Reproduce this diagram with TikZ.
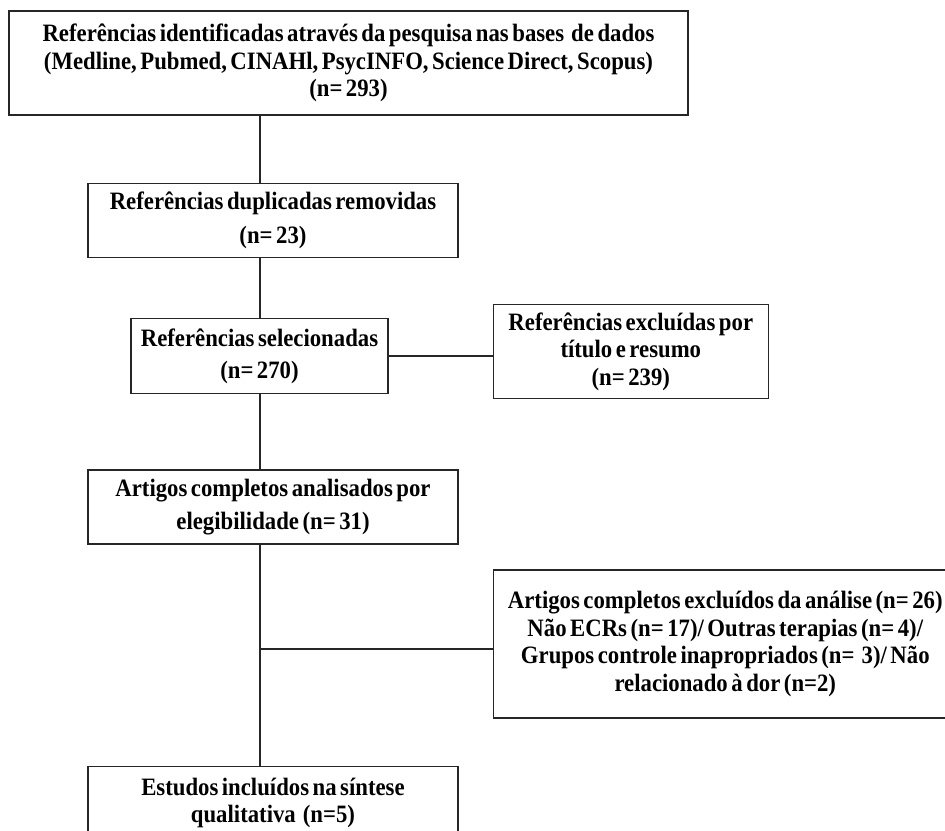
\documentclass[tikz,border=0pt]{standalone}
\usepackage{fontspec}
\setmainfont{Liberation Serif}[FakeStretch=0.91, WordSpace=0.62]
\usetikzlibrary{positioning}

\begin{document}
\begin{tikzpicture}[
    x=1pt, y=-1pt,
    box/.style={rectangle, draw=black!85, line width=1.3pt, align=flush center, inner sep=0pt,
        font=\bfseries\fontsize{25}{27.5}\selectfont},
    link/.style={draw=black!85, line width=1.3pt},
]
    \path[use as bounding box, clip] (0,0) rectangle (945,830);

    % Identification
    \node[box, text width=679pt, minimum height=104pt] (ident) at (348.5,63)
        {Referências identificadas através da pesquisa nas bases~ de dados\\
         (Medline, Pubmed, CINAHl, PsycINFO, Science Direct, Scopus)\\
         (n= 293)};

    % Duplicates
    \node[box, text width=370pt, minimum height=74pt, below=67pt of ident, xshift=-75.5pt] (dup)
        {Referências duplicadas removidas\\[7pt] (n= 23)};

    % Screening
    \node[box, text width=257pt, minimum height=75pt, below=60pt of dup, xshift=-13.5pt] (sel)
        {Referências selecionadas\\[4pt] (n= 270)};
    \node[box, text width=275pt, minimum height=94pt, right=104pt of sel, yshift=4.5pt] (exclA)
        {Referências excluídas por\\título e resumo\\(n= 239)};

    % Eligibility
    \node[box, text width=370pt, minimum height=74pt, below=75pt of sel, xshift=13.5pt] (full)
        {Artigos completos analisados por\\[6pt] elegibilidade (n= 31)};
    \node[box, text width=464pt, minimum height=148pt, right=34pt of full, yshift=-137pt] (exclB)
        {Artigos completos excluídos da análise (n= 26)\\
         Não ECRs (n= 17)/ Outras terapias (n= 4)/\\
         Grupos controle inapropriados (n=~~3)/ Não\\
         relacionado à dor (n=2)};

    % Included
    \node[box, text width=370pt, minimum height=74pt, below=221pt of full] (final)
        {Estudos incluídos na síntese\\qualitativa~~(n=5)};

    % Connectors
    \coordinate (trunk) at (260,0);
    \coordinate (split) at (260,649);
    \draw[link] (ident.south -| trunk) -- (dup.north -| trunk);
    \draw[link] (dup.south -| trunk) -- (sel.north -| trunk);
    \draw[link] (sel.south -| trunk) -- (full.north -| trunk);
    \draw[link] (full.south -| trunk) -- (final.north -| trunk);
    \draw[link] (sel.east) -- (sel.east -| exclA.west);
    \draw[link] (split) -- (split -| exclB.west);

\end{tikzpicture}
\end{document}
